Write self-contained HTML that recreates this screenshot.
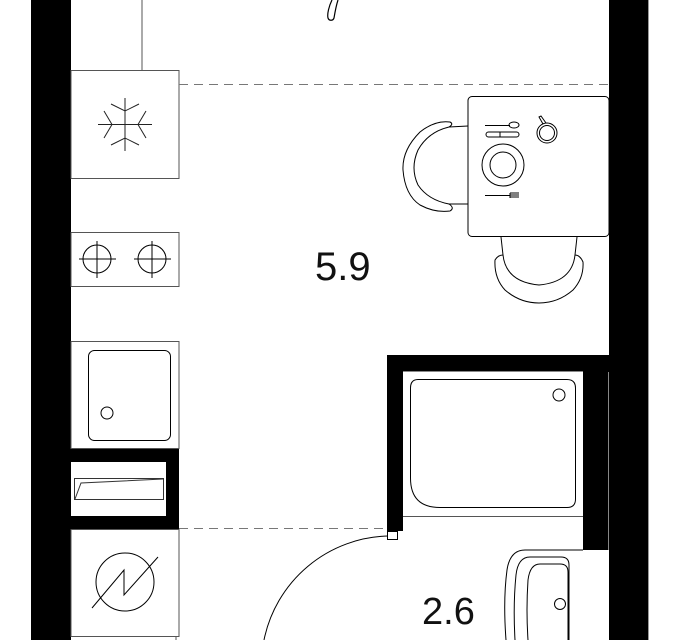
<!DOCTYPE html>
<html><head><meta charset="utf-8"><style>
html,body{margin:0;padding:0;background:#fff;width:694px;height:640px;overflow:hidden}
svg{display:block}
text{font-family:"Liberation Sans",sans-serif}
</style></head><body>
<svg width="694" height="640" viewBox="0 0 694 640" xmlns="http://www.w3.org/2000/svg">
<g fill="none" stroke="#000" stroke-width="1">
<rect x="31" y="0" width="40" height="640" fill="#000" stroke="none"/>
<rect x="609" y="0" width="39" height="640" fill="#000" stroke="none"/>
<line x1="648.5" y1="0" x2="648.5" y2="640" stroke="#999"/>
<line x1="142" y1="0" x2="142" y2="70" stroke="#555"/>
<path d="M332 0 C329 6 327 14 328 18 C329 21 333 21 334 18 C335 12 336 6 338 0" stroke-width="1.2"/>
<rect x="71" y="70.5" width="108" height="108" stroke="#555"/>
<line x1="179" y1="84.5" x2="609" y2="84.5" stroke="#777" stroke-dasharray="9,6"/>
<g stroke="#222">
<line x1="98" y1="124.5" x2="152" y2="124.5"/>
<line x1="125" y1="98" x2="125" y2="151"/>
<polyline points="111,104 125,111 139,104"/><polyline points="111,145 125,138 139,145"/>
<polyline points="104,111 112,124.5 104,138"/><polyline points="146,111 138,124.5 146,138"/>
</g>
<rect x="71" y="232.5" width="108" height="54" stroke="#555"/>
<circle cx="97" cy="259" r="14"/><circle cx="152" cy="259" r="14"/>
<line x1="79" y1="259" x2="116" y2="259"/><line x1="97" y1="241" x2="97" y2="278"/>
<line x1="134" y1="259" x2="171" y2="259"/><line x1="152" y1="241" x2="152" y2="278"/>
<rect x="71" y="341.5" width="108" height="107" stroke="#555"/>
<rect x="88.5" y="350.5" width="82" height="90" rx="6"/>
<circle cx="107" cy="413" r="6"/>
<rect x="71" y="449" width="108" height="13" fill="#000" stroke="none"/>
<rect x="71" y="516" width="108" height="13" fill="#000" stroke="none"/>
<rect x="166" y="462" width="13" height="54" fill="#000" stroke="none"/>
<rect x="74.5" y="478.5" width="89" height="21" stroke="#333"/>
<polyline points="75,499 81,483 163,479" stroke="#333"/>
<line x1="179" y1="528.5" x2="387" y2="528.5" stroke="#777" stroke-dasharray="9,6"/>
<rect x="71" y="529.5" width="108" height="107" stroke="#555"/>
<circle cx="125" cy="582" r="29"/>
<polyline points="92,608 124,570 124,595 158,557"/>
<line x1="71" y1="636.5" x2="179" y2="636.5" stroke="#555"/>
<line x1="176" y1="636" x2="176" y2="640" stroke="#555"/>
<path d="M264 640 A130 130 0 0 1 388 536"/>
<rect x="387" y="355" width="222" height="17" fill="#000" stroke="none"/>
<rect x="387" y="372" width="16" height="159" fill="#000" stroke="none"/>
<rect x="583" y="372" width="26" height="178" fill="#000" stroke="none"/>
<line x1="403" y1="371.5" x2="583" y2="371.5" stroke="#888"/>
<line x1="608.5" y1="372" x2="608.5" y2="550" stroke="#888"/>
<rect x="387.5" y="531.5" width="10" height="8"/>
<line x1="403" y1="516.5" x2="583" y2="516.5" stroke="#555"/>
<path d="M418 379.5 H567 Q575.5 379.5 575.5 388 V499 Q575.5 507.5 567 507.5 H440 Q410.5 507.5 410.5 478 V388 Q410.5 379.5 418 379.5 Z"/>
<circle cx="559" cy="395" r="6"/>
<path d="M583 550 H525 Q510 550 507 570 Q503 600 506 640"/>
<path d="M569 640 V565 Q569 557 561 557 H530 Q518 557 516 575 Q513 605 515 640"/>
<path d="M568 640 V572 Q568 564 560 564 H540 Q530 564 528 580 Q526 610 528 640"/>
<circle cx="560" cy="604" r="5.5"/>
<rect x="468" y="96.5" width="141" height="140" rx="4"/>
<path d="M468 126 L449 127 Q454 124 450 122 Q435 120 420 132 Q402 150 403 170 Q405 195 420 205 Q435 213 450 211 Q455 208 449 204 L468 204"/>
<path d="M449 127 Q428 132 418 150 Q410 168 418 185 Q428 200 449 204"/>
<path d="M501 237 L503 255 Q498 255 495 260 Q494 278 505 290 Q520 303 539 303 Q558 303 573 290 Q584 278 583 262 Q580 255 575 255 L577 237"/>
<path d="M503 255 Q506 282 539 285 Q572 282 575 255"/>
<circle cx="503" cy="165" r="21"/><circle cx="503" cy="165" r="13"/>
<line x1="485" y1="125.5" x2="510" y2="125.5"/><ellipse cx="514" cy="125" rx="5" ry="3"/>
<rect x="486" y="132" width="33" height="5" rx="2.5"/><line x1="500" y1="132" x2="500" y2="137"/>
<line x1="485" y1="195.5" x2="510" y2="195.5"/><path d="M510 193 H519 M510 195 H519 M510 197 H519 M510 193 V198" />
<circle cx="547" cy="133" r="10"/><circle cx="547" cy="133" r="7.5"/>
<path d="M543 124 L539 117 L541 116 L546 123"/>
</g>
<text x="315" y="280" font-size="40" fill="#111">5.9</text>
<text x="422" y="624" font-size="38" fill="#111">2.6</text>
</svg>
</body></html>
